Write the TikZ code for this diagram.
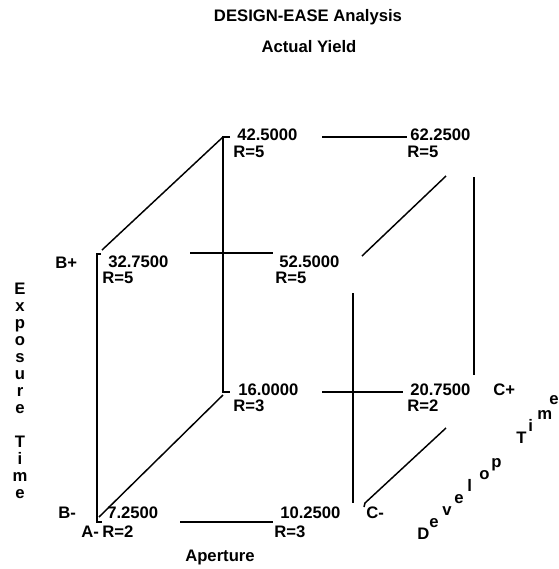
\documentclass[tikz,border=0pt]{standalone}
\usepackage{fontspec}
\setmainfont{Liberation Sans}
\usetikzlibrary{positioning}
\tikzset{
  val/.style={font=\bfseries\fontsize{12.5}{14}\selectfont, inner sep=0pt, anchor=west},
  ttl/.style={font=\bfseries\fontsize{12.5}{14}\selectfont, inner sep=0pt, anchor=center},
  ltr/.style={font=\bfseries\fontsize{12.5}{14}\selectfont, inner sep=0pt, anchor=base west},
  edge/.style={draw=black, line width=1.1pt},
  heavyedge/.style={draw=black, line width=2.2pt}
}

\begin{document}
\begin{tikzpicture}[x=0.75pt, y=-0.75pt]
\useasboundingbox (0,0) rectangle (559,569);
% ---- titles ----
\node[ttl] (title) at (308,17) {DESIGN-EASE Analysis};
\node[ttl] (resp) at (309,47) {Actual Yield};
% ---- corner values ----
\node[val] (v425) at (237,135) {42.5000};
\node[val] (r425) at (233,152) {R=5};
\node[val] (v6225) at (410,135) {62.2500};
\node[val] (r6225) at (407,152) {R=5};
\node[val] (v3275) at (108,262) {32.7500};
\node[val] (r3275) at (102,278) {R=5};
\node[val] (v525) at (279,262) {52.5000};
\node[val] (r525) at (275,278) {R=5};
\node[val] (v16) at (238,390) {16.0000};
\node[val] (r16) at (233,406) {R=3};
\node[val] (v2075) at (410,390) {20.7500};
\node[val] (r2075) at (407,406) {R=2};
\node[val] (v725) at (107,513) {7.2500};
\node[val] (r725) at (102,532) {R=2};
\node[val] (v1025) at (280,513) {10.2500};
\node[val] (r1025) at (274,532) {R=3};
% ---- factor levels ----
\node[val] (bplus) at (55,263) {B+};
\node[val] (bminus) at (58,513) {B-};
\node[val] (aminus) at (81,532) {A-};
\node[val] (cplus) at (493,390) {C+};
\node[val] (cminus) at (366,513) {C-};
% ---- axis names ----
\node[ttl] (aper) at (220,557) {Aperture};
\node[font=\bfseries\fontsize{12.5}{12.75}\selectfont, inner sep=0pt, anchor=north, align=center] (expo) at (20,283) {E\\x\\p\\o\\s\\u\\r\\e\\\mbox{}\\T\\i\\m\\e};
\node[ltr] (dv1) at (417,539) {D};
\node[ltr] (dv2) at (429,527) {e};
\node[ltr] (dv3) at (442,515) {v};
\node[ltr] (dv4) at (454,503) {e};
\node[ltr] (dv5) at (467,491) {l};
\node[ltr] (dv6) at (479,479) {o};
\node[ltr] (dv7) at (491,467) {p};
\node[ltr] (dv8) at (516,443) {T};
\node[ltr] (dv9) at (528,431) {i};
\node[ltr] (dv10) at (537,419) {m};
\node[ltr] (dv11) at (549,404) {e};
% ---- cube corners and edge ends ----
\coordinate (flt) at (97,254);
\coordinate (flb) at (97,522);
\coordinate (blt) at (223,137);
\coordinate (blb) at (223,392);
\coordinate (dtl) at (102,250);
\coordinate (dbl) at (99,517);
\coordinate (dblb) at (223,395);
\coordinate (tb1) at (322,137);
\coordinate (tb2) at (407,137);
\coordinate (tf1) at (190,253);
\coordinate (tf2) at (273,253);
\coordinate (mb1) at (322,392);
\coordinate (mb2) at (403,392);
\coordinate (bf1) at (180,522);
\coordinate (bf2) at (273,522);
\coordinate (dtr1) at (362,256);
\coordinate (dtr2) at (446,176);
\coordinate (br1) at (474,177);
\coordinate (br2) at (474,375);
\coordinate (fr1) at (353,293);
\coordinate (fr2) at (353,503);
\coordinate (dbr1) at (365,503);
\coordinate (dbr2) at (446,428);
% ---- edges ----
\draw[edge] (flt) ++(4,0) -- (flt) -- (flb) -- ++(5,0);
\draw[heavyedge] (blt) ++(7,0) -- (blt) -- (blb) -- ++(7,0);
\draw[edge] (dtl) -- (blt);
\draw[edge] (dbl) -- (dblb);
\draw[edge] (tb1) -- (tb2);
\draw[edge] (tf1) -- (tf2);
\draw[edge] (mb1) -- (mb2);
\draw[edge] (bf1) -- (bf2);
\draw[edge] (dtr1) -- (dtr2);
\draw[edge] (br1) -- (br2);
\draw[edge] (fr1) -- (fr2);
\draw[edge] (dbr2) -- (dbr1) -- ++(-1,4);
\end{tikzpicture}
\end{document}
